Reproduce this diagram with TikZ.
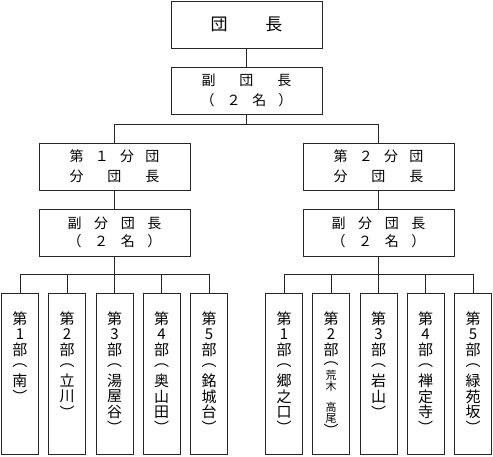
\documentclass[tikz,border=0pt]{standalone}
\usepackage{fontspec}
\setmainfont{Noto Sans CJK JP}
\newcommand\vcell[2][15.5pt]{\vbox to #1{\vss\hbox to 22pt{\hss#2\hss}\vss}}
\newcommand\vcol[1]{\vbox{\offinterlineskip #1}}
\newcommand\dist[2]{\makebox[#1][s]{#2}}
\newcommand\hf{\hfill}
\begin{document}
\begin{tikzpicture}[x=1pt,y=-1pt,
  box/.style={draw=black!85, line width=1pt, rectangle, inner sep=0pt},
  midbox/.style={box, minimum width=151pt, minimum height=47pt, align=center},
  colbox/.style={box, minimum width=37pt, minimum height=161pt},
  wire/.style={draw=black!85, line width=1pt},
  vtext/.style={anchor=north, inner sep=0pt, font=\fontsize{15}{15.5}\selectfont}]
\useasboundingbox (0,0) rectangle (493,456);

% top levels
\node[midbox, font=\fontsize{17}{20}\selectfont] (chief) at (246.5,24.5) {\dist{72pt}{団\hf{}長}};
\node[midbox, font=\fontsize{14}{20.5}\selectfont] (vice) at (246.5,90.5)
  {\dist{90pt}{副\hf{}団\hf{}長}\\\dist{92pt}{（\hf{}２\hf{}名\hf{}）}};

\node[midbox, font=\fontsize{14}{20}\selectfont] (fen1) at (114.5,166.5)
  {\dist{90pt}{第\hf{}１\hf{}分\hf{}団}\\\dist{90pt}{分\hf{}団\hf{}長}};
\node[midbox, font=\fontsize{14}{20}\selectfont] (fen2) at (378.5,166.5)
  {\dist{90pt}{第\hf{}２\hf{}分\hf{}団}\\\dist{90pt}{分\hf{}団\hf{}長}};

\node[midbox, font=\fontsize{14}{18}\selectfont] (vf1) at (114.5,232.5)
  {\dist{94pt}{副\hf{}分\hf{}団\hf{}長}\\\dist{94pt}{（\hf{}２\hf{}名\hf{}）}};
\node[midbox, font=\fontsize{14}{18}\selectfont] (vf2) at (378.5,232.5)
  {\dist{94pt}{副\hf{}分\hf{}団\hf{}長}\\\dist{94pt}{（\hf{}２\hf{}名\hf{}）}};

% bottom boxes
\node[colbox] (a1) at (20,373.5) {};
\node[colbox] (a2) at (67,373.5) {};
\node[colbox] (a3) at (114.5,373.5) {};
\node[colbox] (a4) at (161.5,373.5) {};
\node[colbox] (a5) at (209,373.5) {};
\node[colbox] (b1) at (284,373.5) {};
\node[colbox] (b2) at (331,373.5) {};
\node[colbox] (b3) at (378.5,373.5) {};
\node[colbox] (b4) at (425.5,373.5) {};
\node[colbox] (b5) at (473,373.5) {};

\node[vtext] (ta1) at ([yshift=-18.5pt]a1.north) {\vcol{\vcell{第}\vcell{1}\vcell{部}\vcell{︵}\vcell{南}\vcell{︶}}};
\node[vtext] (ta2) at ([yshift=-18.5pt]a2.north) {\vcol{\vcell{第}\vcell{2}\vcell{部}\vcell{︵}\vcell{立}\vcell{川}\vcell{︶}}};
\node[vtext] (ta3) at ([yshift=-18.5pt]a3.north) {\vcol{\vcell{第}\vcell{3}\vcell{部}\vcell{︵}\vcell{湯}\vcell{屋}\vcell{谷}\vcell{︶}}};
\node[vtext] (ta4) at ([yshift=-18.5pt]a4.north) {\vcol{\vcell{第}\vcell{4}\vcell{部}\vcell{︵}\vcell{奥}\vcell{山}\vcell{田}\vcell{︶}}};
\node[vtext] (ta5) at ([yshift=-18.5pt]a5.north) {\vcol{\vcell{第}\vcell{5}\vcell{部}\vcell{︵}\vcell{銘}\vcell{城}\vcell{台}\vcell{︶}}};

\node[vtext] (tb1) at ([yshift=-18.5pt]b1.north) {\vcol{\vcell{第}\vcell{1}\vcell{部}\vcell{︵}\vcell{郷}\vcell{之}\vcell{口}\vcell{︶}}};
\node[vtext] (tb2) at ([yshift=-18.5pt]b2.north) {\vcol{\vcell{第}\vcell{2}\vcell{部}\vcell[12pt]{︵}%
  \vcell[11pt]{\fontsize{11}{11}\selectfont 荒}\vcell[12pt]{\fontsize{11}{11}\selectfont 木}\vskip9pt
  \vcell[11pt]{\fontsize{11}{11}\selectfont 高}\vcell[12pt]{\fontsize{11}{11}\selectfont 尾}\vcell[11pt]{︶}}};
\node[vtext] (tb3) at ([yshift=-18.5pt]b3.north) {\vcol{\vcell{第}\vcell{3}\vcell{部}\vcell{︵}\vcell{岩}\vcell{山}\vcell{︶}}};
\node[vtext] (tb4) at ([yshift=-18.5pt]b4.north) {\vcol{\vcell{第}\vcell{4}\vcell{部}\vcell{︵}\vcell{禅}\vcell{定}\vcell{寺}\vcell{︶}}};
\node[vtext] (tb5) at ([yshift=-18.5pt]b5.north) {\vcol{\vcell{第}\vcell{5}\vcell{部}\vcell{︵}\vcell{緑}\vcell{苑}\vcell{坂}\vcell{︶}}};

% junctions
\coordinate (j0) at (246.5,124);
\coordinate (jl) at (114.5,274);
\coordinate (jr) at (378.5,274);

% connectors
\draw[wire] (chief.south) -- (vice.north);
\draw[wire] (vice.south) -- (j0);
\draw[wire] (fen1.north) |- (j0);
\draw[wire] (fen2.north) |- (j0);
\draw[wire] (fen1.south) -- (vf1.north);
\draw[wire] (fen2.south) -- (vf2.north);
\draw[wire] (vf1.south) -- (jl);
\draw[wire] (vf2.south) -- (jr);
\foreach \n in {a1,a2,a3,a4,a5} \draw[wire] (\n.north) |- (jl);
\foreach \n in {b1,b2,b3,b4,b5} \draw[wire] (\n.north) |- (jr);
\end{tikzpicture}
\end{document}
